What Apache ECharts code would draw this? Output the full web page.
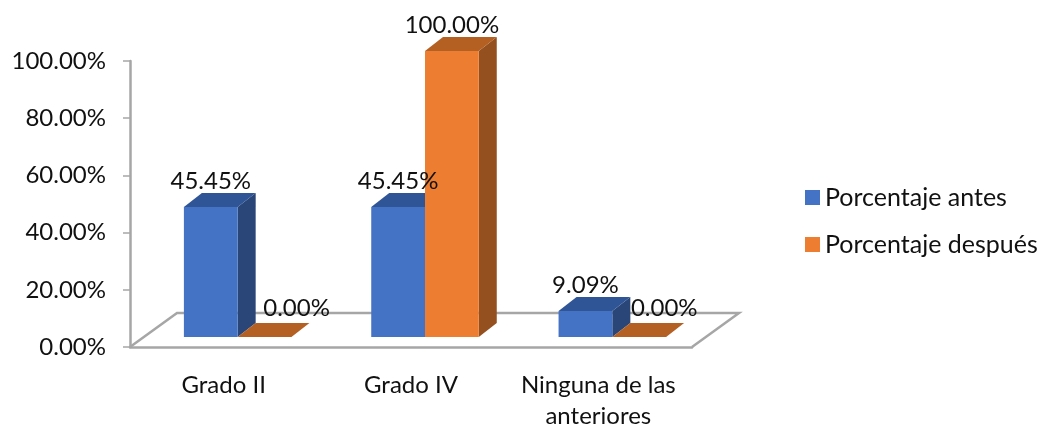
<!DOCTYPE html>
<html>
<head>
<meta charset="utf-8">
<script src="https://cdn.jsdelivr.net/npm/echarts@6/dist/echarts.min.js"></script>
<style>
html, body { margin: 0; padding: 0; background: #fff; }
#echart { width: 1042px; height: 426px; }
</style>
</head>
<body>
<div id="echart"></div>
<script>
var categories = ['Grado II', 'Grado IV', 'Ninguna de las\nanteriores'];
var antes = [45.45, 45.45, 9.09];
var despues = [0, 100, 0];
var serieNames = ['Porcentaje antes', 'Porcentaje después'];

var FONT = 'Lato';
var DEPTH_X = 18, DEPTH_Y = 14, FLOOR_Y = 10;
var BAR_RATIO = 0.287, GROUP_SHIFT = 14;

function toPairs(values) {
    var out = [];
    for (var i = 0; i < values.length; i++) out.push([i, values[i]]);
    return out;
}

// bar with front, side and top faces, 0 or 1 = position in the group
function bar3d(pos, colors) {
    return function (params, api) {
        var cat = api.value(0), val = api.value(1);
        var base = api.coord([cat, 0]);
        var top = api.coord([cat, val]);
        var w = api.size([1, 0])[0] * BAR_RATIO;
        var x0 = base[0] + GROUP_SHIFT + (pos - 1) * w;
        var x1 = x0 + w;
        var y0 = base[1] - FLOOR_Y;
        var y1 = top[1] - FLOOR_Y;
        var children = [];
        if (val > 0) {
            children.push({
                type: 'polygon',
                shape: { points: [[x1, y0], [x1 + DEPTH_X, y0 - DEPTH_Y], [x1 + DEPTH_X, y1 - DEPTH_Y], [x1, y1]] },
                style: { fill: colors.side }
            });
            children.push({
                type: 'rect',
                shape: { x: x0, y: y1, width: w, height: y0 - y1 },
                style: { fill: colors.front }
            });
        }
        children.push({
            type: 'polygon',
            shape: { points: [[x0, y1], [x0 + DEPTH_X, y1 - DEPTH_Y], [x1 + DEPTH_X, y1 - DEPTH_Y], [x1, y1]] },
            style: { fill: colors.top }
        });
        // zero labels sit to the right of the flat bar
        var lx = (x0 + x1) / 2, ly = y1 - 26;
        if (val === 0) {
            lx += cat === 0 ? 32 : 25;
            ly = y1 - 29;
        }
        children.push({
            type: 'text',
            z2: 100,
            style: {
                x: lx, y: ly,
                text: val.toFixed(2) + '%',
                fill: '#111',
                font: '24px ' + FONT,
                align: 'center',
                verticalAlign: 'middle'
            }
        });
        return { type: 'group', children: children };
    };
}

// floor of the 3D box, starts at the axis corner
function floorItem(params, api) {
    var o = api.coord([0, 0]);
    var w = api.size([1, 0])[0] * categories.length;
    var corner = [o[0] - api.size([1, 0])[0] / 2, o[1]];
    return {
        type: 'polyline',
        shape: { points: [
            corner,
            [corner[0] + 47, corner[1] - 34],
            [corner[0] + w + 47, corner[1] - 34],
            [corner[0] + w, corner[1]]
        ] },
        style: { fill: null, stroke: '#a6a6a6', lineWidth: 2.5 }
    };
}

var myChart = echarts.init(document.getElementById('echart'));
var option = {
    animation: false,
    backgroundColor: '#fff',
    textStyle: { fontFamily: FONT },
    grid: { left: 130, right: 350, top: 61, bottom: 79, outerBoundsMode: 'none' },
    legend: {
        data: [
            { name: serieNames[0], itemStyle: { color: '#4472C4' } },
            { name: serieNames[1], itemStyle: { color: '#ED7D31' } }
        ],
        orient: 'vertical',
        left: 805,
        top: 185,
        padding: 0,
        icon: 'rect',
        itemWidth: 15,
        itemHeight: 15,
        itemGap: 22,
        textStyle: { fontFamily: FONT, fontSize: 25, color: '#111' }
    },
    xAxis: {
        type: 'category',
        data: categories,
        axisLine: { lineStyle: { color: '#a6a6a6', width: 2.5 } },
        axisTick: { length: 8, lineStyle: { color: '#a6a6a6', width: 1.5 } },
        axisLabel: {
            interval: 0,
            margin: 23,
            fontFamily: FONT,
            fontSize: 24,
            lineHeight: 31,
            color: '#111'
        }
    },
    yAxis: {
        type: 'value',
        min: 0,
        max: 100,
        interval: 20,
        axisLine: { show: true, lineStyle: { color: '#a6a6a6', width: 2.5 } },
        axisTick: { show: true, length: 7, lineStyle: { color: '#a6a6a6', width: 1.5 } },
        splitLine: { show: false },
        axisLabel: {
            margin: 24,
            padding: [3, 0, 0, 0],
            fontFamily: FONT,
            fontSize: 24,
            color: '#111',
            formatter: function (v) { return v.toFixed(2) + '%'; }
        }
    },
    series: [
        {
            type: 'custom',
            silent: true,
            clip: false,
            renderItem: floorItem,
            encode: { x: 0, y: 1 },
            data: [[0, 0]]
        },
        {
            name: serieNames[0],
            type: 'custom',
            clip: false,
            renderItem: bar3d(0, { front: '#4472C4', side: '#2A4678', top: '#2F5597' }),
            encode: { x: 0, y: 1 },
            itemStyle: { color: '#4472C4' },
            data: toPairs(antes)
        },
        {
            name: serieNames[1],
            type: 'custom',
            clip: false,
            renderItem: bar3d(1, { front: '#ED7D31', side: '#95501F', top: '#B46023' }),
            encode: { x: 0, y: 1 },
            itemStyle: { color: '#ED7D31' },
            data: toPairs(despues)
        }
    ]
};
myChart.setOption(option);
</script>
</body>
</html>
